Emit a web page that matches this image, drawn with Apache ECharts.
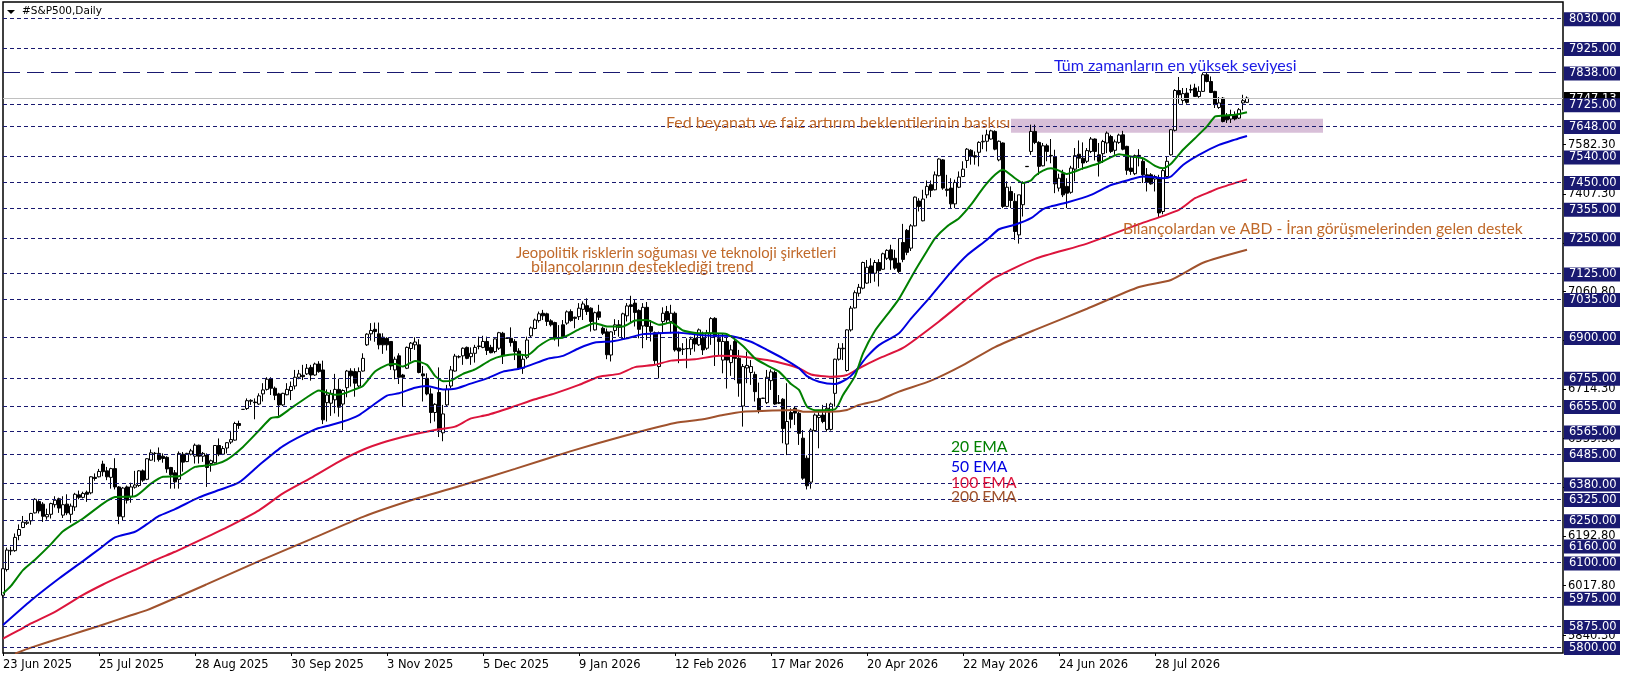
<!DOCTYPE html>
<html><head><meta charset="utf-8">
<style>html,body{margin:0;padding:0;background:#fff}#c{width:1626px;height:677px}</style>
<script src="https://cdn.jsdelivr.net/npm/echarts@6/dist/echarts.min.js"></script>
</head><body><div id="c"></div>
<script>
// each row: open, high, low, close
const barsA=[[5984,6078,5975,6078],[6075,6153,6068,6144],[6141,6156,6126,6143],[6142,6203,6138,6189],[6196,6235,6179,6217],[6224,6265,6222,6243],[6239,6250,6233,6243],[6248,6276,6234,6274],[6276,6328,6274,6324],[6316,6321,6274,6283],[6307,6314,6244,6264],[6262,6291,6252,6270],[6271,6312,6256,6309],[6305,6335,6295,6321],[6326,6330,6276,6293],[6268,6335,6258,6305],[6307,6342,6268,6276],[6271,6309,6241,6300],[6297,6347,6283,6342],[6340,6355,6324,6331],[6331,6351,6327,6345],[6349,6355,6315,6342],[6347,6406,6342,6404],[6402,6416,6390,6398],[6404,6432,6402,6423],[6449,6461,6406,6422],[6425,6439,6392,6404],[6402,6436,6362,6433],[6433,6470,6359,6368],[6368,6371,6236,6264],[6262,6368,6248,6364],[6368,6373,6309,6321],[6333,6383,6312,6368],[6367,6425,6362,6375],[6373,6428,6368,6425],[6425,6430,6386,6392],[6395,6470,6392,6468],[6463,6501,6461,6489],[6487,6492,6457,6487],[6487,6508,6458,6465],[6477,6487,6454,6469],[6473,6477,6418,6432],[6437,6439,6362,6411],[6418,6428,6362,6386],[6395,6494,6362,6487],[6484,6492,6422,6456],[6458,6489,6456,6487],[6484,6503,6480,6496],[6477,6522,6451,6516],[6516,6518,6451,6477],[6477,6492,6457,6487],[6481,6487,6368,6437],[6451,6465,6422,6461],[6454,6515,6451,6515],[6515,6540,6477,6484],[6484,6513,6481,6504],[6506,6527,6487,6525],[6527,6567,6520,6536],[6534,6599,6532,6593],[6593,6603,6574,6586]];
const barsB=[[6643,6644,6642,6643],[6646,6682,6641,6674],[6672,6679,6659,6675],[6669,6682,6608,6667],[6662,6700,6659,6691],[6698,6736,6671,6712],[6714,6757,6710,6750],[6752,6757,6694,6718],[6718,6724,6676,6693],[6698,6702,6620,6659],[6659,6702,6655,6700],[6695,6736,6693,6714],[6710,6742,6676,6724],[6726,6783,6714,6757],[6757,6783,6750,6769],[6764,6801,6747,6759],[6769,6804,6765,6789],[6792,6801,6745,6765],[6765,6809,6762,6804],[6804,6814,6773,6777],[6783,6816,6591,6606],[6667,6714,6600,6694],[6665,6712,6620,6700],[6677,6769,6629,6714],[6714,6752,6617,6651],[6662,6714,6570,6710],[6720,6783,6686,6779],[6779,6789,6724,6762],[6777,6789,6688,6736],[6726,6792,6721,6777],[6779,6842,6777,6824],[6872,6913,6868,6910],[6911,6949,6887,6923],[6927,6951,6883,6919],[6911,6951,6856,6872],[6899,6913,6840,6872],[6895,6899,6852,6872],[6884,6884,6783,6797],[6783,6830,6750,6821],[6833,6842,6733,6757],[6765,6769,6653,6757],[6789,6866,6786,6863],[6859,6882,6813,6878],[6872,6899,6854,6882],[6872,6892,6771,6774],[6769,6797,6671,6762],[6753,6771,6693,6698],[6698,6718,6594,6632],[6632,6665,6600,6661],[6703,6792,6545,6570],[6560,6659,6530,6627],[6659,6730,6655,6714],[6726,6797,6718,6783],[6779,6840,6777,6832],[6830,6835,6824,6829],[6833,6863,6801,6860],[6863,6866,6821,6824],[6830,6863,6801,6842],[6842,6872,6809,6863],[6866,6901,6856,6868],[6863,6904,6860,6884],[6884,6901,6836,6852]];
const barsC=[[6863,6872,6842,6844],[6848,6895,6842,6893],[6860,6918,6854,6915],[6913,6918,6804,6833],[6896,6898,6894,6895],[6895,6934,6866,6880],[6884,6892,6818,6848],[6850,6860,6783,6789],[6789,6836,6769,6821],[6828,6901,6821,6889],[6904,6937,6899,6932],[6930,6965,6927,6960],[6958,6990,6951,6982],[6984,6996,6960,6975],[6982,6986,6939,6955],[6957,6963,6937,6943],[6951,6954,6887,6895],[6897,6942,6866,6895],[6943,6960,6895,6901],[6949,6994,6943,6989],[6990,6998,6954,6958],[6970,6972,6931,6966],[6972,7020,6960,7002],[6998,7026,6960,7017],[7011,7037,6978,6990],[7002,7005,6919,6955],[6925,6990,6923,6986],[6989,7014,6960,6970],[6931,6937,6907,6913],[6918,6930,6821,6837],[6836,6920,6813,6918],[6923,6963,6907,6943],[6943,6960,6901,6934],[6894,6986,6892,6982],[6975,7020,6955,7010],[7014,7046,6949,7008],[7020,7031,6937,6987],[6994,6998,6895,6927],[6939,7020,6860,7005],[7005,7024,6889,6937],[6937,6960,6884,6920],[6915,6919,6804,6816],[6795,6919,6753,6915],[6955,7005,6913,6984],[6990,7010,6949,6960],[6955,7014,6913,6984],[6984,6990,6848,6854],[6861,6919,6807,6850],[6857,6878,6836,6856],[6858,6895,6789,6859],[6858,6901,6836,6892],[6895,6913,6848,6875],[6872,6930,6868,6925],[6895,6919,6836,6854],[6860,6925,6854,6915],[6913,6970,6872,6965],[6966,6970,6797,6901],[6894,6911,6836,6884],[6818,6913,6771,6884],[6884,6901,6717,6818],[6809,6872,6762,6854],[6884,6889,6747,6824],[6824,6854,6688,6736]];
const barsD=[[6655,6804,6582,6795],[6790,6848,6736,6799],[6774,6818,6730,6795],[6767,6777,6671,6706],[6682,6738,6629,6641],[6683,6684,6681,6682],[6667,6783,6662,6757],[6745,6785,6712,6776],[6774,6781,6659,6662],[6667,6694,6662,6665],[6679,6683,6523,6575],[6520,6736,6481,6600],[6632,6647,6576,6608],[6647,6653,6588,6630],[6629,6635,6517,6558],[6541,6570,6393,6399],[6470,6480,6359,6372],[6385,6576,6362,6570],[6568,6629,6564,6623],[6614,6641,6505,6622],[6623,6659,6594,6600],[6572,6665,6564,6647],[6572,6667,6568,6662],[6700,6823,6653,6821],[6821,6878,6816,6860],[6858,6878,6818,6860],[6781,6927,6777,6925],[6925,7010,6919,7002],[7003,7065,7001,7057],[7055,7088,7043,7076],[7073,7167,7069,7164],[7091,7173,7088,7147],[7152,7179,7091,7126],[7126,7173,7096,7164],[7164,7176,7079,7135],[7140,7199,7138,7195],[7179,7211,7173,7207],[7209,7227,7138,7173],[7179,7209,7138,7144],[7162,7250,7126,7132]];
const barsE=[[7235,7301,7165,7175],[7278,7283,7190,7200],[7215,7300,7205,7294],[7294,7398,7292,7396],[7382,7392,7345,7363],[7312,7422,7310,7389],[7404,7455,7392,7434],[7440,7455,7396,7420],[7422,7487,7420,7475],[7472,7534,7469,7531],[7528,7531,7422,7428],[7424,7475,7398,7420],[7428,7463,7357,7372],[7372,7458,7357,7448],[7431,7487,7428,7467],[7469,7523,7467,7495],[7526,7570,7499,7566],[7562,7566,7511,7540],[7543,7558,7511,7538],[7555,7594,7505,7590],[7592,7617,7566,7594],[7594,7635,7558,7617],[7602,7635,7600,7631],[7629,7633,7562,7566],[7528,7597,7523,7594],[7588,7590,7357,7363],[7363,7452,7360,7431],[7416,7434,7357,7384],[7381,7410,7244,7274],[7262,7404,7231,7404],[7369,7452,7327,7446],[7505,7506,7503,7504],[7558,7653,7546,7629],[7629,7653,7584,7590],[7590,7594,7475,7505],[7507,7588,7505,7578],[7578,7585,7523,7558]];
const barsF=[[7544,7602,7516,7542],[7540,7564,7410,7443],[7428,7479,7416,7463],[7479,7493,7396,7404],[7434,7463,7357,7410],[7413,7507,7408,7499],[7495,7570,7452,7543],[7548,7597,7499,7534],[7534,7590,7493,7517],[7523,7570,7517,7561],[7558,7609,7552,7602],[7602,7604,7526,7558],[7546,7588,7469,7523],[7550,7599,7517,7593],[7588,7629,7552,7623],[7611,7617,7552,7558],[7562,7600,7546,7592],[7590,7621,7585,7616],[7617,7631,7562,7566],[7576,7578,7475,7491],[7499,7540,7475,7487],[7479,7547,7474,7543],[7544,7566,7505,7542],[7523,7531,7446,7475],[7475,7499,7416,7448],[7475,7481,7440,7443],[7460,7475,7416,7469],[7463,7475,7322,7340],[7345,7497,7335,7490],[7469,7540,7463,7523],[7546,7637,7543,7635],[7633,7779,7629,7774],[7774,7822,7727,7759],[7739,7783,7727,7763],[7765,7783,7727,7732],[7777,7795,7765,7776],[7783,7798,7751,7753],[7753,7789,7748,7771],[7771,7838,7769,7830],[7830,7838,7803,7806],[7806,7824,7765,7767],[7771,7773,7712,7724],[7714,7751,7709,7730],[7747,7751,7661,7664],[7684,7694,7659,7670],[7673,7706,7659,7688],[7688,7700,7668,7673],[7676,7712,7673,7706],[7730,7759,7704,7738],[7732,7753,7730,7747.13]];
// each row: bar index, value
const ema20=[[0,5990],[2,6017],[5,6073],[8,6110],[12,6165],[15,6211],[20,6256],[25,6309],[28,6332],[33,6335],[37,6380],[40,6404],[44,6406],[48,6439],[53,6448],[56,6465],[60,6510],[64,6568],[67,6612],[69,6617],[72,6647],[76,6686],[79,6710],[83,6695],[85,6698],[88,6714],[90,6726],[93,6777],[96,6801],[98,6804],[100,6795],[103,6815],[106,6801],[108,6762],[110,6743],[112,6745],[115,6769],[118,6785],[122,6819],[125,6833],[128,6839],[131,6835],[134,6868],[137,6893],[140,6898],[144,6927],[148,6949],[151,6937],[155,6937],[158,6958],[161,6960],[164,6943],[167,6951],[170,6923],[174,6913],[178,6913],[181,6910],[185,6868],[188,6824],[191,6799],[194,6777],[197,6733],[199,6712],[201,6653],[203,6640],[208,6643],[210,6694],[213,6761],[215,6842],[218,6922],[221,6978],[224,7035],[228,7135],[231,7205],[233,7250],[236,7292],[239,7321],[242,7369],[245,7428],[248,7475],[250,7493],[253,7463],[255,7446],[257,7455],[258,7471],[260,7490],[262,7498],[264,7490],[266,7478],[268,7487],[270,7498],[274,7516],[279,7548],[282,7540],[285,7534],[288,7507],[290,7498],[292,7514],[295,7564],[298,7605],[301,7647],[303,7682],[304,7684],[308,7688],[311,7697]];
const ema50=[[0,5878],[7,5965],[14,6043],[20,6105],[24,6147],[28,6189],[33,6209],[36,6236],[39,6265],[43,6289],[49,6331],[54,6357],[59,6384],[64,6445],[70,6513],[78,6572],[81,6584],[85,6600],[89,6623],[92,6653],[96,6692],[99,6700],[103,6720],[106,6726],[110,6714],[113,6716],[116,6730],[121,6753],[125,6777],[129,6787],[132,6801],[136,6822],[140,6833],[144,6860],[148,6880],[152,6884],[156,6895],[160,6910],[164,6913],[168,6916],[172,6911],[176,6905],[180,6904],[182,6903],[187,6883],[191,6854],[195,6824],[199,6789],[201,6761],[204,6741],[208,6733],[211,6751],[213,6777],[216,6830],[219,6871],[224,6913],[227,6965],[232,7045],[237,7130],[241,7190],[246,7245],[249,7282],[253,7298],[257,7321],[260,7353],[262,7363],[266,7377],[272,7404],[277,7439],[282,7459],[285,7469],[290,7463],[292,7469],[295,7510],[299,7546],[304,7581],[308,7600],[311,7613]];
const ema100=[[0,5830],[4,5860],[7,5884],[13,5925],[20,5985],[25,6022],[30,6055],[34,6080],[38,6108],[43,6138],[51,6191],[57,6232],[64,6285],[70,6345],[77,6400],[84,6458],[90,6500],[96,6530],[102,6552],[108,6570],[113,6582],[117,6611],[121,6623],[127,6650],[133,6679],[138,6700],[144,6730],[149,6759],[154,6769],[158,6793],[163,6801],[167,6816],[173,6821],[179,6833],[185,6830],[191,6818],[195,6806],[199,6789],[202,6767],[207,6759],[211,6765],[214,6789],[219,6824],[225,6861],[234,6955],[242,7047],[248,7110],[258,7177],[271,7231],[284,7300],[294,7351],[298,7392],[302,7416],[304,7428],[311,7459]];
const ema200=[[3,5777],[7,5798],[16,5839],[24,5875],[32,5913],[36,5931],[51,6023],[64,6105],[77,6183],[90,6262],[103,6325],[115,6375],[128,6432],[142,6495],[155,6548],[168,6595],[175,6608],[180,6623],[185,6635],[191,6638],[198,6641],[200,6635],[207,6635],[211,6641],[214,6659],[219,6676],[224,6706],[232,6745],[240,6800],[248,6864],[258,6925],[271,7000],[284,7077],[292,7102],[300,7163],[311,7209]];
const dateLabels=['23 Jun 2025','25 Jul 2025','28 Aug 2025','30 Sep 2025','3 Nov 2025','5 Dec 2025','9 Jan 2026','12 Feb 2026','17 Mar 2026','20 Apr 2026','22 May 2026','24 Jun 2026','28 Jul 2026'];
const barsPerLabel=24;
const slotCount=391;
const scaleTicks=[7582.3,7407.3,7233.8,7060.8,6887.3,6714.3,6539.3,6366.3,6192.8,6017.8,5840.3];
const levels=[8030,7925,7725,7648,7540,7450,7355,7250,7125,7035,6900,6755,6655,6565,6485,6380,6325,6250,6160,6100,5975,5875,5800];
const athLevel=7838;
const lastPrice=7747.13;
const zoneTop=7674, zoneBottom=7624, zoneStartBar=252, zoneEndBar=330;

const bars=[...barsA,...barsB,...barsC,...barsD,...barsE,...barsF];
const categories=Array.from({length:slotCount},(_,i)=>i%barsPerLabel===0&&dateLabels[i/barsPerLabel]?dateLabels[i/barsPerLabel]:'');
const isLabelled=(i)=>i%barsPerLabel===0&&!!dateLabels[i/barsPerLabel];

const axisFont='"DejaVu Sans"', noteFont='Lato';
const NAVY='#191970';
const lvlLabel=(v,bg)=>({show:true,position:'end',distance:1,offset:[0,1],formatter:v.toFixed(2),color:'#fff',backgroundColor:bg,fontFamily:axisFont,fontSize:11.5,lineHeight:14,height:14,width:46,padding:[0,5,0,5],align:'left'});
const lineData=[
 {yAxis:lastPrice,lineStyle:{color:'#c0c0c0',type:'solid',width:1},label:lvlLabel(lastPrice,'#000')},
 {yAxis:athLevel,lineStyle:{color:NAVY,type:[17,7],width:1},label:lvlLabel(athLevel,NAVY)},
 ...levels.map(v=>({yAxis:v,lineStyle:{color:NAVY,type:[4,3],width:1},label:lvlLabel(v,NAVY)}))
];

const notes=[
 {t:'Tüm zamanların en yüksek seviyesi',x:1054,y:58,c:'#1a1ae6',s:16},
 {t:'Fed beyanatı ve faiz artırım beklentilerinin baskısı',x:666,y:115,c:'#c0692a',s:16},
 {t:'Jeopolitik risklerin soğuması ve teknoloji şirketleri',x:516,y:246,c:'#c0692a',s:14.8},
 {t:'bilançolarının desteklediği trend',x:531,y:259,c:'#c0692a',s:16},
 {t:'Bilançolardan ve ABD - İran görüşmelerinden gelen destek',x:1123,y:221,c:'#c0692a',s:15.7},
 {t:'20 EMA',x:951,y:439,c:'#008000',s:15.7},
 {t:'50 EMA',x:951,y:459,c:'#0000e0',s:15.7},
 {t:'100 EMA',x:951,y:475,c:'#dc143c',s:15.7},
 {t:'200 EMA',x:951,y:489,c:'#a0522d',s:15.7}
];

const emaLine=(data,color)=>({type:'line',z:4,data,showSymbol:false,symbol:'none',smooth:0.2,lineStyle:{color,width:2}});
const chart=echarts.init(document.getElementById('c'));
chart.setOption({
 animation:false,backgroundColor:'#fff',
 grid:{left:3,right:63,top:2,bottom:24,show:true,borderColor:'#000',borderWidth:1.5,backgroundColor:'transparent'},
 xAxis:{type:'category',data:categories,boundaryGap:false,
  axisLine:{show:false},splitLine:{show:false},
  axisTick:{show:true,length:3,interval:(i)=>isLabelled(i),lineStyle:{color:'#000'}},
  axisLabel:{show:true,interval:(i)=>isLabelled(i),align:'left',margin:6,color:'#000',fontFamily:axisFont,fontSize:11.5,hideOverlap:false}},
 yAxis:{type:'value',position:'right',min:5779,max:8088,scale:true,
  axisLine:{show:false},splitLine:{show:false},
  axisTick:{show:true,length:3,customValues:scaleTicks,lineStyle:{color:'#000'}},
  axisLabel:{show:true,customValues:scaleTicks,margin:5,color:'#000',fontFamily:axisFont,fontSize:11.5,formatter:v=>v.toFixed(2),hideOverlap:false}},
 series:[
  {type:'line',z:1,data:[],silent:true,markArea:{silent:true,itemStyle:{color:'#d8bfd8',opacity:1},data:[[{xAxis:zoneStartBar,yAxis:zoneTop},{xAxis:zoneEndBar,yAxis:zoneBottom}]]}},
  {type:'line',z:2,data:[],silent:true,markLine:{silent:true,symbol:'none',animation:false,data:lineData}},
  {type:'candlestick',z:3,barWidth:2.6,data:bars.map(b=>[b[0],b[3],b[2],b[1]]),itemStyle:{color:'#fff',color0:'#000',borderColor:'#000',borderColor0:'#000',borderWidth:1}},
  emaLine(ema200,'#a0522d'),emaLine(ema100,'#dc143c'),emaLine(ema50,'#0000e0'),emaLine(ema20,'#008000')
 ],
 graphic:[
  {type:'polygon',z:10,shape:{points:[[7,10],[15,10],[11,14]]},style:{fill:'#000'}},
  {type:'text',z:10,x:22,y:6,style:{text:'#S&P500,Daily',fill:'#000',font:'10.5px "DejaVu Sans"',textBaseline:'top'}},
  ...notes.map(n=>({type:'text',z:10,x:n.x,y:n.y,style:{text:n.t,fill:n.c,font:n.s+'px '+noteFont,textBaseline:'middle'}}))
 ]
});
</script></body></html>
